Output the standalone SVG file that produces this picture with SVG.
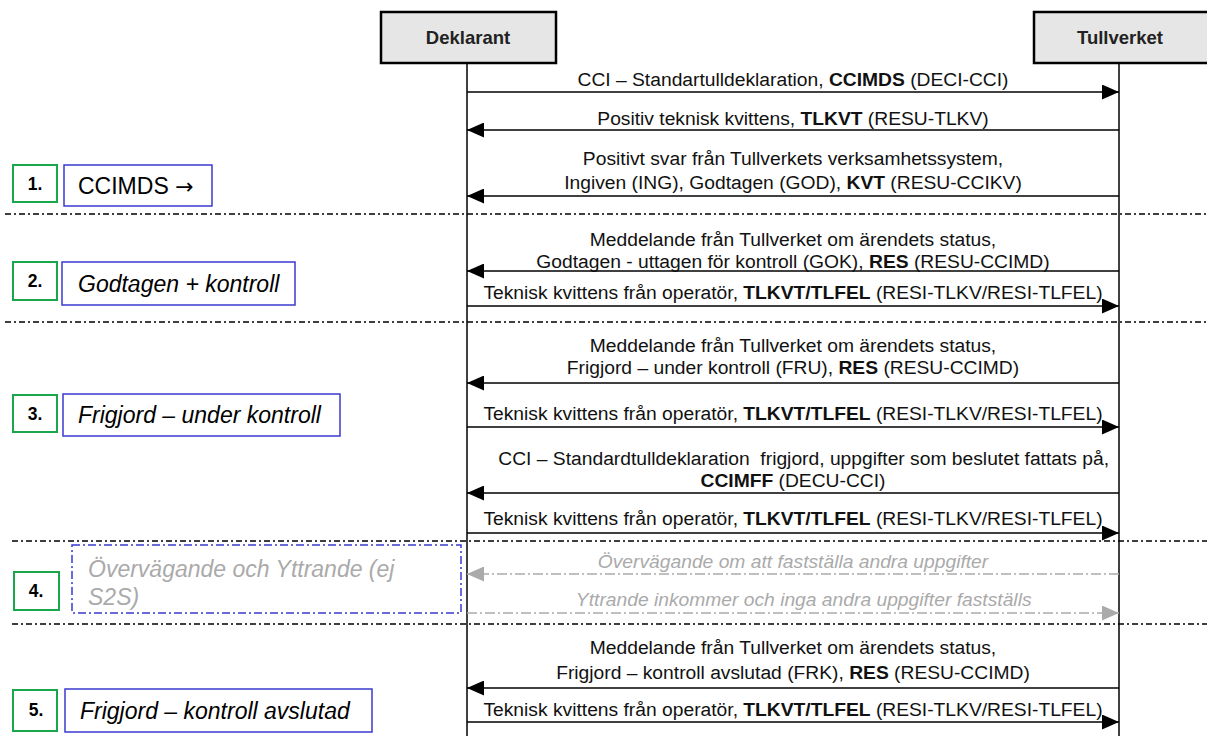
<svg xmlns="http://www.w3.org/2000/svg" width="1207" height="736" viewBox="0 0 1207 736">
<defs>
<marker id="ah" markerWidth="17" markerHeight="15" refX="17" refY="7.5" orient="auto" markerUnits="userSpaceOnUse"><path d="M0,0 L17,7.5 L0,15 Z" fill="#000"/></marker>
<marker id="ahg" markerWidth="17" markerHeight="15" refX="17" refY="7.5" orient="auto" markerUnits="userSpaceOnUse"><path d="M0,0 L17,7.5 L0,15 Z" fill="#aaa"/></marker>
<style>
text{font-family:"Liberation Sans",Arial,sans-serif;}
.actor{fill:#e6e6e6;stroke:#000;stroke-width:2.5;}
.an{font-size:18.5px;font-weight:bold;text-anchor:middle;fill:#222;}
.life{stroke:#000;stroke-width:1.5;fill:none;}
.msg{stroke:#000;stroke-width:1.6;fill:none;marker-end:url(#ah);}
.gmsg{stroke:#aaa;stroke-width:1.5;fill:none;stroke-dasharray:10 3 2 3;marker-end:url(#ahg);}
.lbl{font-size:18px;text-anchor:middle;fill:#111;}
.glbl{font-size:18px;text-anchor:middle;fill:#aaa;font-style:italic;}
.sep{stroke:#000;stroke-width:1.5;stroke-dasharray:6 3 2 3;}
.gbox{fill:#fff;stroke:#1aa64a;stroke-width:2;}
.bbox{fill:#fff;stroke:#3a3ad0;stroke-width:1.5;}
.num{font-size:17.5px;font-weight:bold;text-anchor:middle;fill:#000;}
.step{font-size:23px;font-style:italic;fill:#000;}
.stepn{font-size:23px;fill:#000;}
.stepg{font-size:23px;font-style:italic;fill:#aaa;}
</style>
</defs>
<rect width="1207" height="736" fill="#fff"/>
<g id="separators">
<line class="sep" x1="5" y1="214" x2="1207" y2="214"/>
<line class="sep" x1="5" y1="322" x2="1207" y2="322"/>
<line class="sep" x1="12" y1="541" x2="1207" y2="541"/>
<line class="sep" x1="12" y1="624" x2="1207" y2="624"/>
</g>
<g id="deklarant">
<rect class="actor" x="381" y="12" width="175" height="51"/>
<text class="an" x="468" y="44">Deklarant</text>
</g>
<g id="tullverket">
<rect class="actor" x="1034" y="12" width="180" height="51"/>
<text class="an" x="1120" y="44">Tullverket</text>
</g>
<g id="lifelines">
<line class="life" x1="467" y1="63" x2="467" y2="736"/>
<line class="life" x1="1119" y1="63" x2="1119" y2="736"/>
</g>
<g id="connectors">
<line class="msg" x1="467" y1="92" x2="1119" y2="92"/>
<line class="msg" x1="1119" y1="130" x2="467" y2="130"/>
<line class="msg" x1="1119" y1="196" x2="467" y2="196"/>
<line class="msg" x1="1119" y1="271" x2="467" y2="271"/>
<line class="msg" x1="467" y1="306" x2="1119" y2="306"/>
<line class="msg" x1="1119" y1="383" x2="467" y2="383"/>
<line class="msg" x1="467" y1="427" x2="1119" y2="427"/>
<line class="msg" x1="1119" y1="493" x2="467" y2="493"/>
<line class="msg" x1="467" y1="533" x2="1119" y2="533"/>
<line class="gmsg" x1="1119" y1="574" x2="467" y2="574"/>
<line class="gmsg" x1="467" y1="613" x2="1119" y2="613"/>
<line class="msg" x1="1119" y1="688" x2="467" y2="688"/>
<line class="msg" x1="467" y1="722" x2="1119" y2="722"/>
</g>
<g id="connector-labels" transform="translate(793,0) scale(1.07,1) translate(-793,0)">
<text class="lbl" x="793" y="86">CCI – Standartulldeklaration, <tspan font-weight="bold">CCIMDS</tspan> (DECI-CCI)</text>
<text class="lbl" x="793" y="125">Positiv teknisk kvittens, <tspan font-weight="bold">TLKVT</tspan> (RESU-TLKV)</text>
<text class="lbl" x="793" y="165">Positivt svar från Tullverkets verksamhetssystem,</text>
<text class="lbl" x="793" y="189">Ingiven (ING), Godtagen (GOD), <tspan font-weight="bold">KVT</tspan> (RESU-CCIKV)</text>
<text class="lbl" x="793" y="246">Meddelande från Tullverket om ärendets status,</text>
<text class="lbl" x="793" y="268">Godtagen - uttagen för kontroll (GOK), <tspan font-weight="bold">RES</tspan> (RESU-CCIMD)</text>
<text class="lbl" x="793" y="299">Teknisk kvittens från operatör, <tspan font-weight="bold">TLKVT/TLFEL</tspan> (RESI-TLKV/RESI-TLFEL)</text>
<text class="lbl" x="793" y="352">Meddelande från Tullverket om ärendets status,</text>
<text class="lbl" x="793" y="374">Frigjord – under kontroll (FRU), <tspan font-weight="bold">RES</tspan> (RESU-CCIMD)</text>
<text class="lbl" x="793" y="420">Teknisk kvittens från operatör, <tspan font-weight="bold">TLKVT/TLFEL</tspan> (RESI-TLKV/RESI-TLFEL)</text>
<text class="lbl" x="803" y="465">CCI – Standardtulldeklaration&#160; frigjord, uppgifter som beslutet fattats på,</text>
<text class="lbl" x="793" y="487"><tspan font-weight="bold">CCIMFF</tspan> (DECU-CCI)</text>
<text class="lbl" x="793" y="525">Teknisk kvittens från operatör, <tspan font-weight="bold">TLKVT/TLFEL</tspan> (RESI-TLKV/RESI-TLFEL)</text>
<text class="glbl" x="793" y="568">Övervägande om att fastställa andra uppgifter</text>
<text class="glbl" x="803" y="606">Yttrande inkommer och inga andra uppgifter fastställs</text>
<text class="lbl" x="793" y="654">Meddelande från Tullverket om ärendets status,</text>
<text class="lbl" x="793" y="679">Frigjord – kontroll avslutad (FRK), <tspan font-weight="bold">RES</tspan> (RESU-CCIMD)</text>
<text class="lbl" x="793" y="716">Teknisk kvittens från operatör, <tspan font-weight="bold">TLKVT/TLFEL</tspan> (RESI-TLKV/RESI-TLFEL)</text>
</g>
<g id="step1">
<rect class="gbox" x="13" y="165" width="44" height="37"/>
<text class="num" x="35" y="190">1.</text>
<rect class="bbox" x="64" y="165" width="148" height="41"/>
<text class="stepn" x="78" y="194">CCIMDS <tspan font-family="'DejaVu Sans',sans-serif" font-size="22px">→</tspan></text>
</g>
<g id="step2">
<rect class="gbox" x="13" y="262" width="44" height="38"/>
<text class="num" x="35" y="287">2.</text>
<rect class="bbox" x="62" y="262" width="233" height="43"/>
<text class="step" x="78" y="292">Godtagen + kontroll</text>
</g>
<g id="step3">
<rect class="gbox" x="13" y="395" width="44" height="37"/>
<text class="num" x="35" y="420">3.</text>
<rect class="bbox" x="63" y="394" width="277" height="42"/>
<text class="step" x="78" y="423">Frigjord – under kontroll</text>
</g>
<g id="step4">
<rect class="gbox" x="14" y="572" width="45" height="38"/>
<text class="num" x="36" y="597">4.</text>
<rect class="bbox" x="72" y="545" width="389" height="68" stroke-dasharray="8 3 2 3"/>
<text class="stepg" x="88" y="577">Övervägande och Yttrande (ej</text>
<text class="stepg" x="88" y="605">S2S)</text>
</g>
<g id="step5">
<rect class="gbox" x="13" y="690" width="44" height="41"/>
<text class="num" x="36" y="716">5.</text>
<rect class="bbox" x="65" y="689" width="307" height="43"/>
<text class="step" x="80" y="719">Frigjord – kontroll avslutad</text>
</g>
</svg>
